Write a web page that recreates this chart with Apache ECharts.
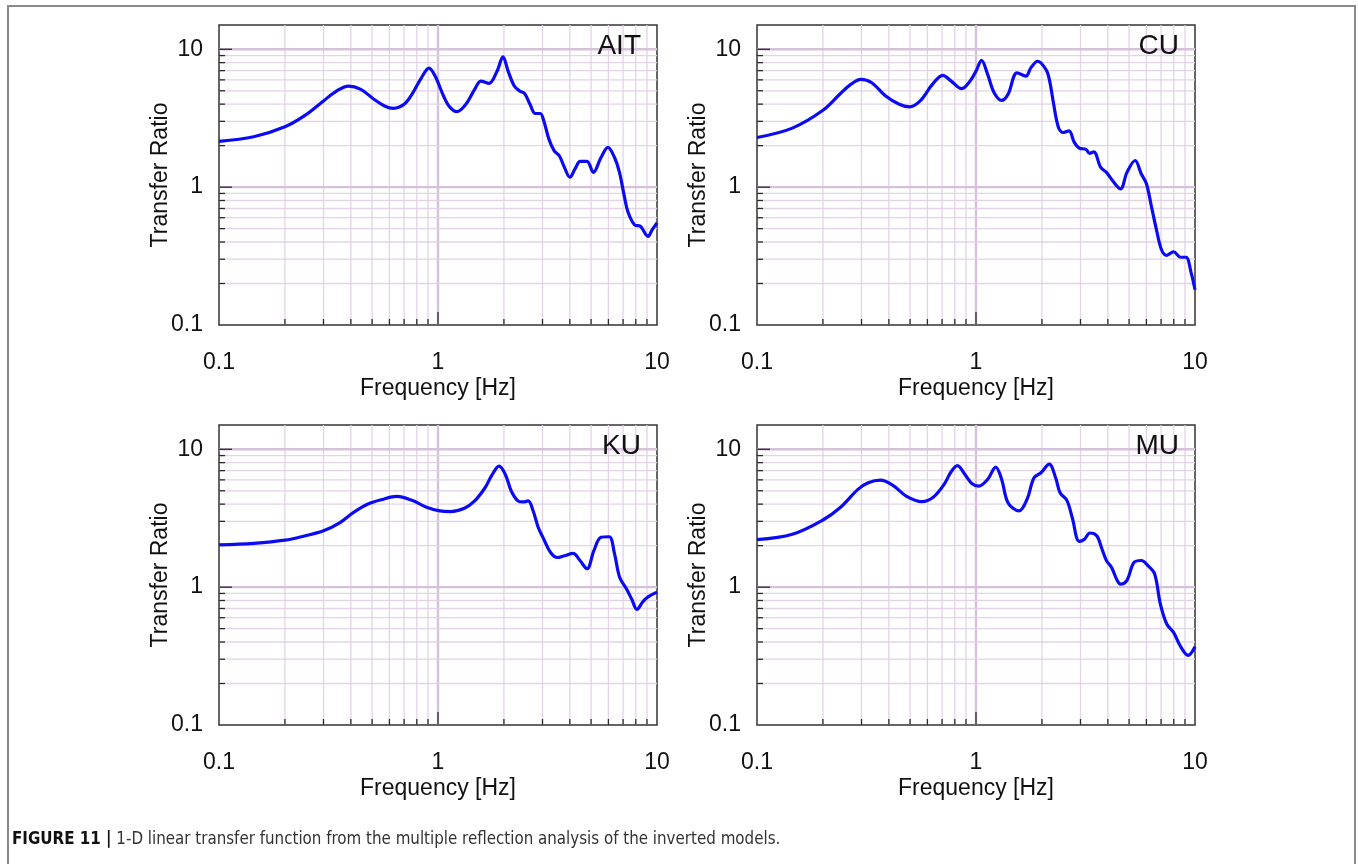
<!DOCTYPE html>
<html>
<head>
<meta charset="utf-8">
<script src="https://cdn.jsdelivr.net/npm/echarts@6/dist/echarts.min.js"></script>
<style>
html,body{margin:0;padding:0;background:#fff;}
#chart{width:1358px;height:864px;}
</style>
</head>
<body>
<div id="chart"></div>
<script>
// ---- data ----
const panelNames = ['AIT', 'CU', 'KU', 'MU'];

const aitFreq  = [0.1,0.144,0.2,0.248,0.3,0.344,0.39,0.444,0.51,0.57,0.626,0.7,0.76,0.84,0.91,0.97,1.06,1.13,1.22,1.34,1.47,1.57,1.71,1.86,1.98,2.09,2.23,2.36,2.49,2.63,2.78,2.93,3.04,3.21,3.39,3.58,3.78,4.0,4.23,4.46,4.79,5.12,5.55,5.97,6.4,6.74,7.1,7.37,7.92,8.4,9.1,9.5,10];
const aitRatio = [2.15,2.32,2.74,3.33,4.22,4.98,5.41,5.12,4.34,3.88,3.73,3.99,4.71,6.21,7.3,6.39,4.58,3.82,3.53,3.99,5.12,5.88,5.65,6.94,8.8,6.94,5.41,4.98,4.76,3.99,3.42,3.42,3.03,2.23,1.84,1.69,1.39,1.18,1.36,1.54,1.54,1.28,1.64,1.94,1.64,1.28,0.85,0.66,0.53,0.52,0.44,0.49,0.55];

const cuFreq  = [0.1,0.145,0.2,0.24,0.268,0.298,0.334,0.387,0.446,0.496,0.556,0.632,0.705,0.77,0.86,0.94,1.0,1.06,1.13,1.21,1.31,1.40,1.54,1.69,1.78,1.91,2.09,2.17,2.25,2.38,2.51,2.66,2.81,2.96,3.18,3.30,3.45,3.71,3.94,4.25,4.57,4.89,5.33,5.68,6.0,6.33,6.67,7.04,7.43,7.98,8.6,9.1,9.6,10];
const cuRatio = [2.29,2.68,3.61,4.76,5.56,6.04,5.72,4.58,3.99,3.82,4.22,5.56,6.46,5.88,5.18,5.88,6.94,8.3,6.57,4.84,4.26,4.71,6.75,6.39,7.33,8.19,7.10,5.88,4.22,2.71,2.49,2.56,2.11,1.92,1.88,1.76,1.80,1.39,1.28,1.09,0.97,1.28,1.56,1.25,1.06,0.72,0.49,0.35,0.32,0.34,0.31,0.31,0.24,0.18];

const kuFreq  = [0.1,0.144,0.2,0.248,0.3,0.357,0.41,0.476,0.55,0.649,0.76,0.88,1.02,1.14,1.32,1.47,1.64,1.76,1.90,2.03,2.16,2.32,2.45,2.58,2.72,2.87,3.04,3.26,3.5,3.78,4.14,4.45,4.79,5.15,5.55,6.05,6.4,6.75,7.26,7.66,8.1,8.6,9.1,10];
const kuRatio = [2.03,2.08,2.19,2.36,2.56,2.94,3.47,3.99,4.3,4.55,4.26,3.82,3.57,3.53,3.73,4.22,5.26,6.46,7.55,6.57,4.98,4.22,4.15,4.22,3.57,2.71,2.23,1.79,1.64,1.69,1.76,1.56,1.36,1.84,2.3,2.32,1.74,1.18,0.97,0.82,0.69,0.78,0.85,0.92];

const muFreq  = [0.1,0.145,0.2,0.24,0.289,0.322,0.366,0.416,0.48,0.566,0.64,0.715,0.77,0.823,0.89,0.96,1.03,1.13,1.23,1.31,1.40,1.57,1.71,1.84,1.98,2.16,2.31,2.42,2.60,2.75,2.96,3.13,3.31,3.56,3.76,3.94,4.16,4.41,4.57,4.89,5.26,5.69,6.10,6.54,6.94,7.43,7.98,8.6,9.3,10];
const muRatio = [2.21,2.42,3.07,3.78,5.12,5.72,5.97,5.5,4.58,4.17,4.51,5.56,6.87,7.62,6.57,5.62,5.41,6.04,7.41,6.04,4.10,3.57,4.34,6.21,6.75,7.8,6.21,4.84,4.26,3.20,2.15,2.23,2.47,2.36,1.89,1.56,1.39,1.12,1.05,1.12,1.51,1.56,1.43,1.25,0.76,0.54,0.47,0.37,0.32,0.37];

const xMin = 0.1, xMax = 10;
const yMin = 0.1, yMax = 15;
const minorValues = [0.2,0.3,0.4,0.5,0.6,0.7,0.8,0.9,2,3,4,5,6,7,8,9];
const majorXValues = [1];
const majorYValues = [1, 10];
const xTickLabels = ['0.1', '1', '10'];
const yTickLabels = ['0.1', '1', '10'];

const captionBold = 'FIGURE 11 |';
const captionText = ' 1-D linear transfer function from the multiple reflection analysis of the inverted models.';

// ---- layout ----
const FONT = '"Liberation Sans", Arial, Helvetica, sans-serif';
const grids = [
  {left: 219, top: 25, width: 438, height: 300},
  {left: 757, top: 25, width: 438, height: 300},
  {left: 219, top: 425, width: 438, height: 300},
  {left: 757, top: 425, width: 438, height: 300}
];
const panelData = [
  [aitFreq, aitRatio], [cuFreq, cuRatio], [kuFreq, kuRatio], [muFreq, muRatio]
];

function logLabel(labels) {
  return function (v) {
    const l = Math.log10(v), r = Math.round(l);
    if (Math.abs(l - r) > 1e-6) return '';
    const idx = r + 1;
    return labels[idx] !== undefined ? labels[idx] : '';
  };
}

// decorations: grid lines & ticks (values -> library coords)
const gridItems = [];
minorValues.forEach(v => { gridItems.push({dir: 'x', v: v, major: false}); });
majorXValues.forEach(v => { gridItems.push({dir: 'x', v: v, major: true}); });
minorValues.forEach(v => { gridItems.push({dir: 'y', v: v, major: false}); });
majorYValues.forEach(v => { gridItems.push({dir: 'y', v: v, major: true}); });

const tickItems = [];
minorValues.forEach(v => { tickItems.push({dir: 'x', v: v, major: false}); });
majorXValues.forEach(v => { tickItems.push({dir: 'x', v: v, major: true}); });
minorValues.forEach(v => { tickItems.push({dir: 'y', v: v, major: false}); });
majorYValues.forEach(v => { tickItems.push({dir: 'y', v: v, major: true}); });

function itemData(items) {
  return items.map(it => it.dir === 'x' ? [it.v, yMin] : [xMin, it.v]);
}

function renderGrid(params, api) {
  const it = gridItems[params.dataIndex];
  let a, b;
  if (it.dir === 'x') { a = api.coord([it.v, yMin]); b = api.coord([it.v, yMax]); }
  else { a = api.coord([xMin, it.v]); b = api.coord([xMax, it.v]); }
  return {
    type: 'line',
    shape: {x1: a[0], y1: a[1], x2: b[0], y2: b[1]},
    style: {stroke: it.major ? '#d6c1da' : '#e2d3e6', lineWidth: it.major ? 2.4 : 1.3}
  };
}
function renderTick(params, api) {
  const it = tickItems[params.dataIndex];
  const len = it.major ? 13 : 6;
  let a, shape;
  if (it.dir === 'x') { a = api.coord([it.v, yMin]); shape = {x1: a[0], y1: a[1], x2: a[0], y2: a[1] - len}; }
  else { a = api.coord([xMin, it.v]); shape = {x1: a[0], y1: a[1], x2: a[0] + len, y2: a[1]}; }
  return {type: 'line', shape: shape, style: {stroke: '#2a2a2a', lineWidth: 1.3}};
}

const option = {
  backgroundColor: '#fff',
  animation: false,
  grid: grids.map(g => Object.assign({show: true, borderColor: '#333', borderWidth: 1.5, backgroundColor: 'transparent'}, g)),
  xAxis: grids.map((g, i) => ({
    type: 'log', logBase: 10, gridIndex: i, min: xMin, max: xMax,
    name: 'Frequency [Hz]', nameLocation: 'middle', nameGap: 52, nameMoveOverlap: false,
    nameTextStyle: {fontSize: 23, color: '#111', fontFamily: FONT},
    axisLine: {show: false}, axisTick: {show: false}, splitLine: {show: false},
    axisLabel: {fontSize: 23, color: '#111', fontFamily: FONT, margin: 26, formatter: logLabel(xTickLabels)}
  })),
  yAxis: grids.map((g, i) => ({
    type: 'log', logBase: 10, gridIndex: i, min: yMin, max: yMax,
    name: 'Transfer Ratio', nameLocation: 'middle', nameGap: 47, nameMoveOverlap: false,
    nameTextStyle: {fontSize: 23, color: '#111', fontFamily: FONT},
    axisLine: {show: false}, axisTick: {show: false}, splitLine: {show: false},
    axisLabel: {fontSize: 23, color: '#111', fontFamily: FONT, margin: 16, formatter: logLabel(yTickLabels)}
  })),
  series: [],
  graphic: []
};

grids.forEach((g, i) => {
  option.series.push({
    type: 'custom', xAxisIndex: i, yAxisIndex: i, silent: true, z: 1,
    renderItem: renderGrid, data: itemData(gridItems)
  });
  option.series.push({
    type: 'line', xAxisIndex: i, yAxisIndex: i, z: 3, silent: true,
    name: panelNames[i],
    data: panelData[i][0].map((f, k) => [f, panelData[i][1][k]]),
    showSymbol: false, smooth: 0.35,
    lineStyle: {color: '#0a0af5', width: 3.2}
  });
  option.series.push({
    type: 'custom', xAxisIndex: i, yAxisIndex: i, silent: true, z: 4,
    renderItem: renderTick, data: itemData(tickItems)
  });
  option.graphic.push({
    type: 'text', x: g.left + g.width - 16, y: g.top + 21, z: 10,
    style: {text: panelNames[i], font: '28px ' + FONT, fill: '#111', textAlign: 'right', textVerticalAlign: 'middle'}
  });
});

// outer frame & caption
option.graphic.push({
  type: 'rect', shape: {x: 8, y: 6, width: 1347, height: 900}, z: 0,
  style: {fill: 'none', stroke: '#8a8a8a', lineWidth: 2}
});
option.graphic.push({
  type: 'text', x: 12, y: 840, z: 10,
  style: {
    text: '{b|' + captionBold + '}{n|' + captionText + '}',
    textVerticalAlign: 'middle',
    rich: {
      b: {fontFamily: '"Liberation Sans Narrow", "DejaVu Sans Condensed", sans-serif', fontWeight: 'bold', fontSize: 16.8, fill: '#111', color: '#111'},
      n: {fontFamily: '"Liberation Sans Narrow", "DejaVu Sans Condensed", sans-serif', fontSize: 16.8, fill: '#333', color: '#333'}
    }
  }
});

const chart = echarts.init(document.getElementById('chart'), null, {renderer: 'canvas'});
chart.setOption(option);
</script>
</body>
</html>
